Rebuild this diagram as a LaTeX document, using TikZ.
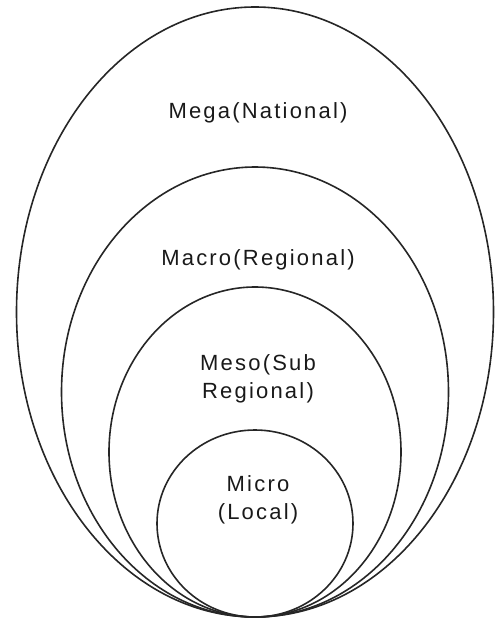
\documentclass[tikz,border=0pt]{standalone}
\usepackage{fontspec}
\setmainfont{Liberation Sans}[LetterSpace=10]
\usetikzlibrary{shapes.geometric,positioning}
\tikzset{
  ring/.style={draw=black!85, line width=1.6pt, ellipse, inner sep=0pt},
  tag/.style={font=\fontsize{22}{28}\selectfont, align=center, inner sep=0pt, text=black!90, xshift=3pt}}

\begin{document}
\begin{tikzpicture}[x=1pt, y=-1pt]
        \useasboundingbox (0,0) rectangle (496,622);

        \foreach \n/\w/\h/\y in {mega/477/610/312, macro/387/450/392,
                                 meso/292/330/452, micro/196/187/523.5} {
          \node[ring, minimum width=\w pt, minimum height=\h pt] (\n) at (255,\y) {};
        }

        \node[tag, below=96pt of mega.north]  (megatag)  {Mega(National)};
        \node[tag, below=83pt of macro.north] (macrotag) {Macro(Regional)};
        \node[tag, below=68pt of meso.north]  (mesotag)  {Meso(Sub\\Regional)};
        \node[tag, below=46pt of micro.north] (microtag) {Micro\\(Local)};
      \end{tikzpicture}
\end{document}
